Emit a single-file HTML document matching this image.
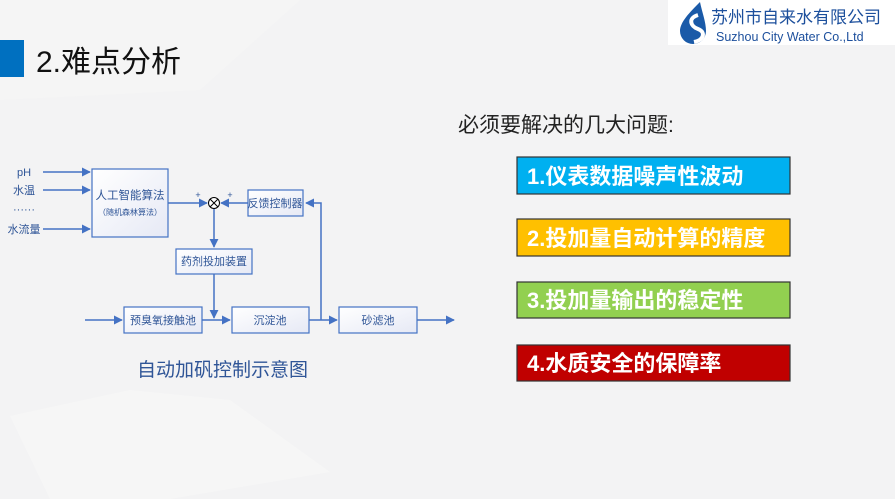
<!DOCTYPE html>
<html><head><meta charset="utf-8"><style>
body{margin:0;width:895px;height:499px;overflow:hidden;background:#f3f3f4;font-family:"Liberation Sans","Noto Sans CJK SC",sans-serif}
</style></head><body>
<svg width="895" height="499" viewBox="0 0 895 499" xmlns="http://www.w3.org/2000/svg" style="position:absolute;left:0;top:0">
<defs>
<marker id="a" viewBox="0 0 10 10" refX="9" refY="5" markerWidth="6" markerHeight="6" orient="auto"><path d="M0,0L10,5L0,10z" fill="#4472c4"/></marker>
<linearGradient id="g" x1="0" y1="0" x2="1" y2="1"><stop offset="0" stop-color="#fff"/><stop offset="1" stop-color="#e6e9f5"/></linearGradient>
</defs>
<rect width="895" height="499" fill="#f3f3f4"/>
<polygon points="10,416 130,390 230,400 330,472 170,499 50,499" fill="#f6f6f6"/>
<polygon points="0,0 300,0 200,90 0,100" fill="#f5f5f5"/>
<rect x="668" y="0" width="227" height="45" fill="#fff"/>
<path d="M700,2 C690,12 680,22 680,31 a13,13 0 0 0 26,0 C706,22 702,12 700,2z" fill="#1a5aa8"/>
<path d="M698,15 C688,18 690,26 698,29 C706,32 704,40 694,42" stroke="#fff" stroke-width="4" fill="none"/>
<text x="711" y="23" font-size="17" fill="#1c4f9c">苏州市自来水有限公司</text>
<text x="716" y="41" font-size="12.5" fill="#1c4f9c">Suzhou City Water Co.,Ltd</text>
<rect x="0" y="40" width="24" height="37" fill="#0070c0"/>
<text x="36" y="72" font-size="30" fill="#111">2.难点分析</text>

<g stroke="#4472c4" stroke-width="1.5" fill="none">
<line x1="43" y1="172" x2="90" y2="172" marker-end="url(#a)"/>
<line x1="43" y1="190" x2="90" y2="190" marker-end="url(#a)"/>
<line x1="43" y1="229" x2="90" y2="229" marker-end="url(#a)"/>
<line x1="168" y1="203" x2="207" y2="203" marker-end="url(#a)"/>
<line x1="248" y1="203" x2="221" y2="203" marker-end="url(#a)"/>
<line x1="214" y1="209" x2="214" y2="247" marker-end="url(#a)"/>
<line x1="214" y1="274" x2="214" y2="318" marker-end="url(#a)"/>
<line x1="85" y1="320" x2="122" y2="320" marker-end="url(#a)"/>
<line x1="202" y1="320" x2="230" y2="320" marker-end="url(#a)"/>
<line x1="309" y1="320" x2="337" y2="320" marker-end="url(#a)"/>
<line x1="417" y1="320" x2="454" y2="320" marker-end="url(#a)"/>
<polyline points="321,320 321,203 306,203" marker-end="url(#a)"/>
</g>
<circle cx="214" cy="203" r="5.5" fill="#fff" stroke="#000" stroke-width="1"/>
<path d="M210,199L218,207M218,199L210,207" stroke="#000" stroke-width="1"/>
<g stroke="#4472c4" stroke-width="1.2" fill="url(#g)">
<rect x="92" y="169" width="76" height="68"/>
<rect x="248" y="190" width="55" height="26"/>
<rect x="176" y="249" width="76" height="25"/>
<rect x="124" y="307" width="78" height="26"/>
<rect x="232" y="307" width="77" height="26"/>
<rect x="339" y="307" width="78" height="26"/>
</g>
<g font-size="11" fill="#2f5597" text-anchor="middle">
<text x="24" y="176">pH</text><text x="24" y="194">水温</text><text x="24" y="213">······</text><text x="24" y="233">水流量</text>
<text x="130" y="199" font-size="11.5">人工智能算法</text>
<text x="130" y="215" font-size="8">（随机森林算法）</text>
<text x="275" y="207">反馈控制器</text>
<text x="214" y="265">药剂投加装置</text>
<text x="163" y="324">预臭氧接触池</text>
<text x="270" y="324">沉淀池</text>
<text x="378" y="324">砂滤池</text>
<text x="198" y="198" font-size="9">+</text><text x="230" y="198" font-size="9">+</text>
</g>
<text x="137" y="376" font-size="19" fill="#2f5597">自动加矾控制示意图</text>
<text x="458" y="132" font-size="21" fill="#222">必须要解决的几大问题:</text>
<g stroke="#333" stroke-width="1.2">
<rect x="517" y="157" width="273" height="37" fill="#00b0f0"/>
<rect x="517" y="219" width="273" height="37" fill="#ffc000"/>
<rect x="517" y="282" width="273" height="36" fill="#92d050"/>
<rect x="517" y="345" width="273" height="36" fill="#c00000"/>
</g>
<g font-size="22" font-weight="bold" fill="#fff">
<text x="527" y="184">1.仪表数据噪声性波动</text>
<text x="527" y="246">2.投加量自动计算的精度</text>
<text x="527" y="308">3.投加量输出的稳定性</text>
<text x="527" y="371">4.水质安全的保障率</text>
</g>
</svg>
</body></html>
